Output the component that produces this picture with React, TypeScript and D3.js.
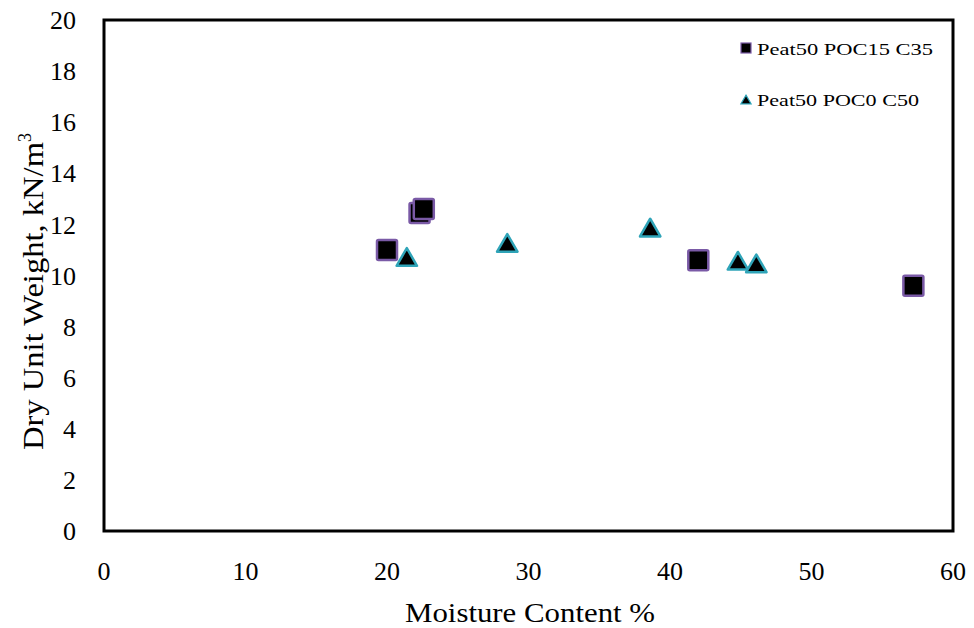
import * as d3 from 'd3';

// series: moisture content (%) vs dry unit weight (kN/m3)
const squareX = [20.0, 22.3, 22.6, 42.0, 57.2];
const squareY = [11.0, 12.45, 12.6, 10.6, 9.6];
const triX = [21.4, 28.5, 38.6, 44.8, 46.1];
const triY = [10.65, 11.2, 11.8, 10.5, 10.4];
const seriesNames = ['Peat50 POC15 C35', 'Peat50 POC0 C50'];
const xTicks = [0, 10, 20, 30, 40, 50, 60];
const yTicks = [0, 2, 4, 6, 8, 10, 12, 14, 16, 18, 20];

const W = 974;
const H = 628;
const FONT = '"Liberation Serif", "Times New Roman", serif';

export default function App() {
  const x = d3.scaleLinear().domain([0, 60]).range([104, 953]);
  const y = d3.scaleLinear().domain([0, 20]).range([531, 20]);
  const tri = d3.symbol().type(d3.symbolTriangle).size(180)();

  const squares = squareX.map((v, i) => ({ x: v, y: squareY[i] }));
  const tris = triX.map((v, i) => ({ x: v, y: triY[i] }));

  return (
    <svg width={W} height={H} style={{ position: 'fixed', left: 0, top: 0, background: '#fff' }} fontFamily={FONT}>
      <rect x={0} y={0} width={W} height={H} fill="#fff" />
      {/* plot frame */}
      <rect x={x(0)} y={y(20)} width={x(60) - x(0)} height={y(0) - y(20)} fill="none" stroke="#000" strokeWidth={3} />

      {yTicks.map((t) => (
        <text key={'y' + t} x={76} y={y(t)} dy="0.35em" textAnchor="end" fontSize={26} fill="#000">{t}</text>
      ))}
      {xTicks.map((t) => (
        <text key={'x' + t} x={x(t)} y={580} textAnchor="middle" fontSize={26} fill="#000">{t}</text>
      ))}

      <text x={405} y={622} fontSize={27} fill="#000" textLength={250} lengthAdjust="spacingAndGlyphs">Moisture Content %</text>
      <text transform={`translate(43, 450) rotate(-90)`} fontSize={30} fill="#000">
        <tspan textLength={308} lengthAdjust="spacingAndGlyphs">Dry Unit Weight, kN/m</tspan>
        <tspan dy={-12} fontSize={18}>3</tspan>
      </text>

      {squares.map((d, i) => (
        <rect key={'s' + i} x={x(d.x) - 10} y={y(d.y) - 10} width={20} height={20} fill="#000" stroke="#7a5aa6" strokeWidth={2.5} rx={1.5} />
      ))}
      {tris.map((d, i) => (
        <path key={'t' + i} d={tri} transform={`translate(${x(d.x)}, ${y(d.y) + 1})`} fill="#000" stroke="#2fa4b8" strokeWidth={2.5} strokeLinejoin="round" />
      ))}

      {/* legend */}
      <rect x={741} y={43} width={10} height={10} fill="#000" stroke="#7a5aa6" strokeWidth={1.2} />
      <text x={757} y={49} dy="0.35em" fontSize={17} fill="#000" textLength={176} lengthAdjust="spacingAndGlyphs">{seriesNames[0]}</text>
      <path d={d3.symbol().type(d3.symbolTriangle).size(45)()} transform="translate(746, 101)" fill="#000" stroke="#2fa4b8" strokeWidth={1.2} />
      <text x={757} y={100} dy="0.35em" fontSize={17} fill="#000" textLength={162} lengthAdjust="spacingAndGlyphs">{seriesNames[1]}</text>
    </svg>
  );
}
